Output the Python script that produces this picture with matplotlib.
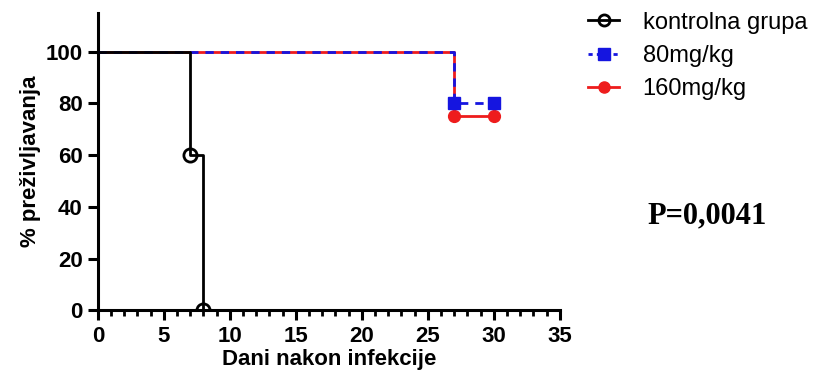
import matplotlib.pyplot as plt
from matplotlib.ticker import MultipleLocator

plt.rcParams['font.family'] = ['Liberation Sans', 'DejaVu Sans']

# survival data (days, % survival)
ctrl_days = [0, 7, 8]
ctrl_surv = [100, 60, 0]
ctrl_mark_days = [7, 8]
ctrl_mark_surv = [60, 0]

d80_days = [0, 27, 30]
d80_surv = [100, 80, 80]
d80_mark_days = [27, 30]
d80_mark_surv = [80, 80]

d160_days = [0, 27, 30]
d160_surv = [100, 75, 75]
d160_mark_days = [27, 30]
d160_mark_surv = [75, 75]

labels = ["kontrolna grupa", "80mg/kg", "160mg/kg"]
x_ticks = [0, 5, 10, 15, 20, 25, 30, 35]
y_ticks = [0, 20, 40, 60, 80, 100]

fig = plt.figure(figsize=(8.22, 3.83), dpi=100)
ax = fig.add_axes([0.119, 0.19, 0.562, 0.776])

lw = 2.0
# 160 mg/kg - red solid
ax.step(d160_days, d160_surv, where='post', color='#ee1c1c', lw=lw, zorder=2)
ax.plot(d160_mark_days, d160_mark_surv, 'o', color='#ee1c1c', ms=8.5, zorder=3)
# 80 mg/kg - blue dashed
ax.step(d80_days, d80_surv, where='post', color='#1515e0', lw=lw, ls=(0, (3, 2.5)), zorder=4)
ax.plot(d80_mark_days, d80_mark_surv, 's', color='#1515e0', ms=8.5, zorder=5)
# control - black
ax.step(ctrl_days, ctrl_surv, where='post', color='black', lw=lw, zorder=6)
ax.plot(ctrl_mark_days, ctrl_mark_surv, 'o', mfc='none', mec='black', mew=2, ms=9.5, zorder=7)

ax.set_xlim(0, 35)
ax.set_ylim(0, 115)
ax.spines['top'].set_visible(False)
ax.spines['right'].set_visible(False)
for s in ['left', 'bottom']:
    ax.spines[s].set_linewidth(2.2)

ax.set_xticks(x_ticks)
ax.xaxis.set_minor_locator(MultipleLocator(1))
ax.set_yticks(y_ticks)
ax.tick_params(axis='both', which='major', length=7, width=2.2, labelsize=16, pad=4)
ax.tick_params(axis='x', which='minor', length=4, width=2)
for t in ax.get_xticklabels() + ax.get_yticklabels():
    t.set_fontweight('bold')

ax.set_xlabel("Dani nakon infekcije", fontsize=16, fontweight='bold', labelpad=2)
ax.set_ylabel("% preživljavanja", fontsize=16, fontweight='bold', labelpad=3)

# legend handles
h1, = plt.plot([], [], '-o', color='black', mfc='none', mew=2, lw=lw, ms=8)
h2, = plt.plot([], [], ls=(0, (1.5, 1.5)), marker='s', color='#1515e0', lw=lw, ms=8)
h3, = plt.plot([], [], '-o', color='#ee1c1c', lw=lw, ms=8)
fig.legend([h1, h2, h3], labels, loc='upper left', bbox_to_anchor=(0.69, 1.025),
           frameon=False, fontsize=17, handlelength=1.3, handletextpad=1.0,
           labelspacing=0.48)

fig.text(0.788, 0.436, "P=0,0041", fontsize=22, fontweight='bold', va='center',
         family=['Liberation Serif', 'DejaVu Serif'])

fig.savefig("out.png", dpi=100)
